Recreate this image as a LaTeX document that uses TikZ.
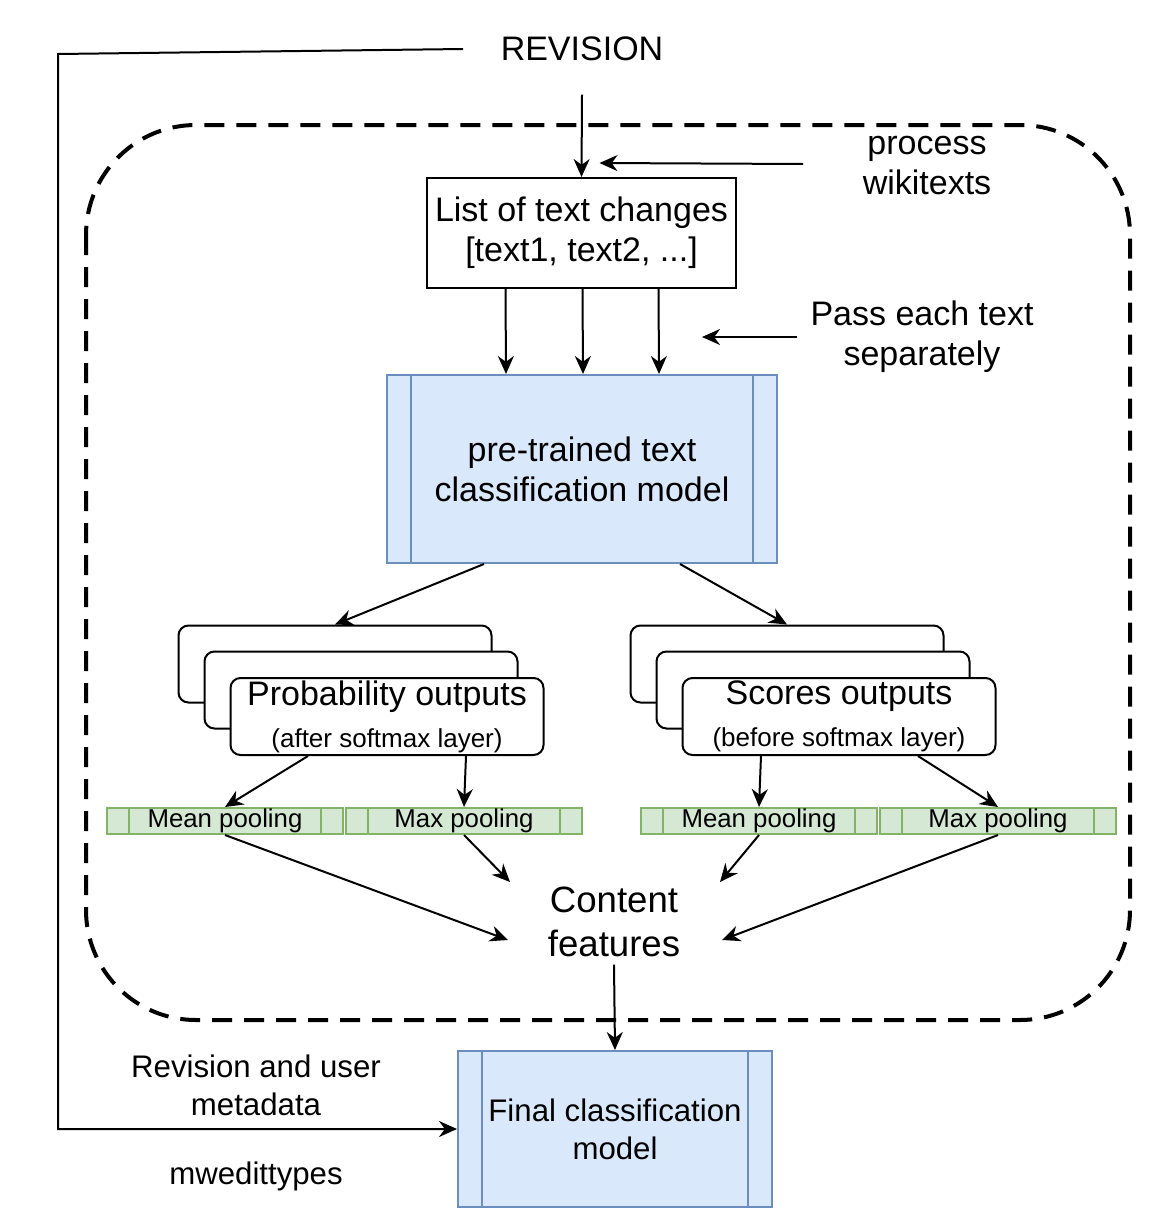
\documentclass[tikz,border=0pt]{standalone}
\usepackage{fontspec}
\setmainfont{Liberation Sans}
\usetikzlibrary{arrows.meta}
\definecolor{modelfill}{HTML}{DAE8FC}
\definecolor{modelline}{HTML}{6C8EBF}
\definecolor{poolfill}{HTML}{D5E8D4}
\definecolor{poolline}{HTML}{82B366}
\tikzset{
  >={Stealth[length=9pt,width=8pt]},
  model/.style={draw=modelline, fill=modelfill, align=center},
  outbox/.style={draw, fill=white, rounded corners=5pt, minimum width=156.5pt, minimum height=38.5pt, inner ysep=1pt, align=center},
  poolbar/.style={draw=poolline, fill=poolfill, minimum width=118pt, minimum height=13pt, inner sep=0pt, font=\fontsize{12.9}{14}\selectfont},
  lower/.style={align=center, font=\fontsize{15.6}{19}\selectfont}
}
\newcommand{\subline}{\fontsize{13}{15}\selectfont}

\begin{document}
\begin{tikzpicture}[x=0.5pt, y=-0.5pt, line width=1pt, font=\fontsize{17}{20}\selectfont]
  \useasboundingbox (0,0) rectangle (1160,1226);
  \draw[line width=2pt, dash pattern=on 10pt off 6pt, rounded corners=55pt] (86,125) rectangle (1130,1020);

  \node (rev) at (582,49) {REVISION};
  \node[draw, minimum width=154.5pt, minimum height=55pt, align=center] (list) at (581.5,233) {List of text changes\\{}[text1, text2, ...]};
  \node[align=center] (wiki) at (927,166) {process\\wikitexts};
  \node[align=center] (pass) at (922,337) {Pass each text\\separately};
  \node[model, minimum width=195pt, minimum height=94pt] (pre) at (582,469) {pre-trained text\\classification model};

  \foreach \n/\x/\a/\b in {prob/387/Probability outputs/after, scores/839/Scores outputs/before} {
    \node[outbox] (\n3) at (\x-52,664) {};
    \node[outbox] (\n2) at (\x-26,690) {};
    \node[outbox] (\n) at (\x,716.5) {\a\\[1pt]{\subline(\b\ softmax layer)}};
  }

  \foreach \n/\x/\t in {pm/225/Mean pooling, px/464/Max pooling, sm/759/Mean pooling, sx/998/Max pooling} {
    \node[poolbar] (\n) at (\x,821) {\t};
    \draw[poolline] ([xshift=11.5pt]\n.north west) -- ([xshift=11.5pt]\n.south west)
      ([xshift=-11.5pt]\n.north east) -- ([xshift=-11.5pt]\n.south east);
  }

  \node[align=center, font=\fontsize{18.3}{22}\selectfont] (feat) at (614,922) {Content\\features};
  \node[model, lower, minimum width=157pt, minimum height=78pt] (final) at (615,1129) {Final classification\\model};
  \foreach \n in {pre, final} {
    \draw[modelline] ([xshift=12.5pt]\n.north west) -- ([xshift=12.5pt]\n.south west)
      ([xshift=-12.5pt]\n.north east) -- ([xshift=-12.5pt]\n.south east);
  }
  \node[lower] (meta) at (256,1085) {Revision and user\\metadata};
  \node[lower] (mwe) at (256,1176) {mwedittypes};

  \draw[->] ([yshift=-13pt]rev.south) -- (list.north);
  \draw[->] ([xshift=-26pt,yshift=1pt]wiki.west) -- ([shift={(18,-14)}]list.north);
  \draw[->] ([xshift=-3pt]pass.west) -- ([xshift=60pt]pre.north |- pass.west);
  \foreach \dx in {-76,1,77}
    \draw[->] ([xshift=\dx*0.5pt]list.south) -- ([xshift=\dx*0.5pt]pre.north);
  \draw[->] ([xshift=-49pt]pre.south) -- (prob3.north);
  \draw[->] ([xshift=49pt]pre.south) -- (scores3.north);
  \draw[->] ([xshift=-39.5pt]prob.south) -- (pm.north);
  \draw[->] ([xshift=39.5pt]prob.south) -- (px.north);
  \draw[->] ([xshift=-39pt]scores.south) -- (sm.north);
  \draw[->] ([xshift=39.5pt]scores.south) -- (sx.north);
  \draw[->] (pm.south) -- ([shift={(-106,18)}]feat.center);
  \draw[->] (px.south) -- ([shift={(-104,-40)}]feat.center);
  \draw[->] (sm.south) -- ([shift={(106,-40)}]feat.center);
  \draw[->] (sx.south) -- ([shift={(108,18)}]feat.center);
  \draw[->] (feat.south) -- (final.north);
  \draw[->] ([xshift=-15pt]rev.west) -- (58,54) |- (final.west);
\end{tikzpicture}
\end{document}
